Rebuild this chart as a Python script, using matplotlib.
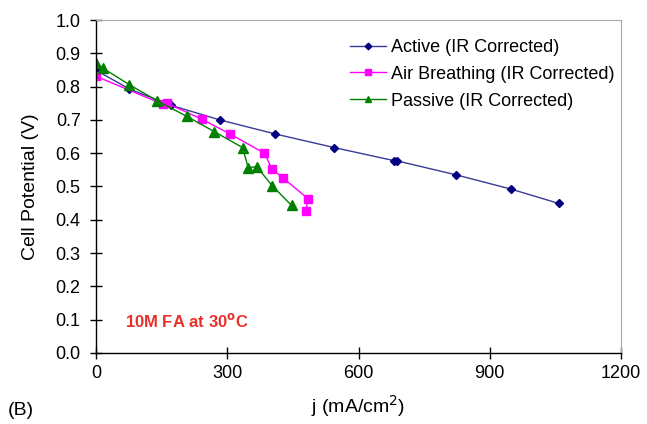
"""Cell polarization curves for 10M FA at 30 C (panel B)."""

import matplotlib

matplotlib.use("Agg")
import matplotlib.pyplot as plt

plt.rcParams["font.family"] = ["Liberation Sans", "DejaVu Sans"]

# current density (mA/cm2) and cell potential (V)
active_j = [0, 76, 171, 283, 409, 544, 680, 688, 823, 949, 1058]
active_v = [0.849, 0.793, 0.744, 0.700, 0.658, 0.617, 0.578, 0.577, 0.535, 0.492, 0.449]

air_j = [0, 153, 162, 242, 306, 385, 402, 428, 485, 479]
air_v = [0.831, 0.747, 0.750, 0.702, 0.658, 0.600, 0.553, 0.525, 0.463, 0.425]

passive_j = [0, 15, 76, 139, 207, 270, 335, 348, 367, 403, 447]
passive_v = [0.871, 0.856, 0.806, 0.758, 0.711, 0.665, 0.617, 0.556, 0.560, 0.502, 0.443]

x_ticks = [0, 300, 600, 900, 1200]
y_ticks = [i / 10 for i in range(11)]

fig = plt.figure(figsize=(6.47, 4.24), dpi=100)
ax = fig.add_axes([0.1484, 0.1675, 0.8114, 0.7853])

ax.plot(active_j, active_v, color="#3a3a9a", lw=1.0, marker="D", ms=4.5,
        mfc="#000080", mec="#000080", label="Active (IR Corrected)")
ax.plot(air_j, air_v, color="#ff00ff", lw=1.0, marker="s", ms=5.5,
        mfc="#ff00ff", mec="#ff00ff", label="Air Breathing (IR Corrected)")
ax.plot(passive_j, passive_v, color="#008000", lw=1.0, marker="^", ms=6.5,
        mfc="#008000", mec="#008000", label="Passive (IR Corrected)")

ax.set_xlim(0, 1200)
ax.set_ylim(0, 1.0)
ax.set_xticks(x_ticks)
ax.set_yticks(y_ticks)
ax.set_yticklabels([f"{v:.1f}" for v in y_ticks])
ax.tick_params(direction="inout", length=8, width=1, labelsize=13, pad=5)
ax.tick_params(axis="y", pad=7)
ax.tick_params(top=False, right=False)

for side in ("top", "right"):
    ax.spines[side].set_color("#a8a8a8")
for side in ("left", "bottom"):
    ax.spines[side].set_color("black")
    ax.spines[side].set_linewidth(1.0)

ax.set_ylabel("Cell Potential (V)", fontsize=14, labelpad=12)
ax.set_xlabel("j (mA/cm$^2$)", fontsize=14, labelpad=8)

ax.text(0.055, 0.095, "10M FA at 30$^{\\mathbf{o}}$C", transform=ax.transAxes,
        color="#e8302a", fontsize=12, fontweight="bold", va="center")
fig.text(0.012, 0.022, "(B)", fontsize=14)

ax.legend(loc="upper left", bbox_to_anchor=(0.47, 0.965), frameon=False,
          fontsize=13, handlelength=2.0, handletextpad=0.25, labelspacing=0.55,
          borderaxespad=0.0, markerscale=0.75)

fig.savefig("out.png", dpi=100)
plt.close(fig)
